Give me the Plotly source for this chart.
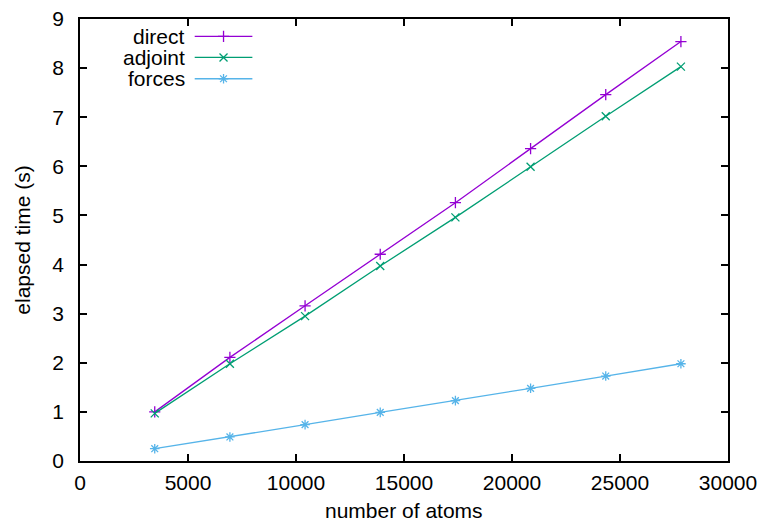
import plotly.graph_objects as go

atoms = [3460, 6940, 10420, 13900, 17380, 20860, 24340, 27820]
direct = [1.00, 2.11, 3.16, 4.21, 5.26, 6.36, 7.46, 8.54]
adjoint = [0.97, 1.98, 2.95, 3.97, 4.96, 5.99, 7.02, 8.03]
forces = [0.25, 0.49, 0.74, 0.99, 1.23, 1.48, 1.73, 1.98]

names = ["direct", "adjoint", "forces"]
colors = ["#9400D3", "#009E73", "#56B4E9"]
symbols = ["cross-thin-open", "x-thin-open", "asterisk-open"]
series = [direct, adjoint, forces]

FONT = "Liberation Sans, Arial, Helvetica, sans-serif"
FS = 21

fig = go.Figure()
for name, ys, c, s in zip(names, series, colors, symbols):
    fig.add_trace(go.Scatter(
        x=atoms, y=ys, name=name, mode="lines+markers",
        line=dict(color=c, width=1.3),
        marker=dict(symbol=s, size=8, color=c, line=dict(color=c, width=1.3)),
        showlegend=False,
    ))

# manual gnuplot-style key (text left, sample right)
key_y = [0.9606, 0.913, 0.8648]
for name, c, s, ky in zip(names, colors, symbols, key_y):
    fig.add_trace(go.Scatter(
        x=[0.177, 0.266], y=[ky, ky], mode="lines",
        line=dict(color=c, width=1.3), xaxis="x2", yaxis="y2",
        showlegend=False, hoverinfo="skip",
    ))
    fig.add_trace(go.Scatter(
        x=[0.2215], y=[ky], mode="markers",
        marker=dict(symbol=s, size=8, color=c, line=dict(color=c, width=1.3)),
        xaxis="x2", yaxis="y2", showlegend=False, hoverinfo="skip",
    ))
    fig.add_annotation(
        x=0.165, y=ky, xref="paper", yref="paper", text=name,
        showarrow=False, xanchor="right", yanchor="middle",
        font=dict(family=FONT, size=FS, color="black"),
    )

# axis titles
fig.add_annotation(x=0.5, y=-0.1117, xref="paper", yref="paper",
                   text="number of atoms", showarrow=False,
                   xanchor="center", yanchor="middle",
                   font=dict(family=FONT, size=FS, color="black"))
fig.add_annotation(x=-0.09, y=0.5, xref="paper", yref="paper",
                   text="elapsed time (s)", showarrow=False, textangle=-90,
                   xanchor="center", yanchor="middle",
                   font=dict(family=FONT, size=FS, color="black"))

axis_common = dict(
    showgrid=False, zeroline=False, showline=True, linecolor="black",
    linewidth=1.5, mirror="ticks", ticks="inside", ticklen=7,
    tickwidth=1.5, tickcolor="black", automargin=False,
    ticklabeloverflow="allow",
    tickfont=dict(family=FONT, size=FS, color="black"),
)

# page body has an 8px default margin, so the figure is sized to the visible area
fig.update_layout(
    width=758, height=516,
    margin=dict(l=72, r=38, t=11, b=63, autoexpand=False),
    paper_bgcolor="white", plot_bgcolor="white",
    font=dict(family=FONT, size=FS, color="black"),
    xaxis=dict(range=[0, 30000], dtick=5000, tickformat="d",
               ticklabelstandoff=2, **axis_common),
    yaxis=dict(range=[0, 9], dtick=1,
               ticklabelstandoff=10, **axis_common),
    xaxis2=dict(overlaying="x", range=[0, 1], visible=False),
    yaxis2=dict(overlaying="y", range=[0, 1], visible=False),
)

fig.write_html("out.html")
